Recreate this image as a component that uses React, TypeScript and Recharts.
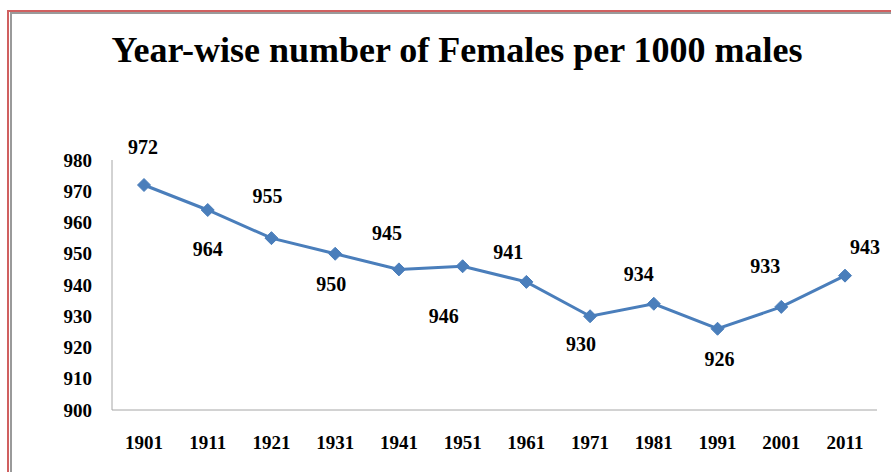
import React from "react";
import { LineChart, Line, XAxis, YAxis, LabelList } from "recharts";

const years = ["1901", "1911", "1921", "1931", "1941", "1951", "1961", "1971", "1981", "1991", "2001", "2011"];
const femalesPer1000 = [972, 964, 955, 950, 945, 946, 941, 930, 934, 926, 933, 943];
const yTicks = [900, 910, 920, 930, 940, 950, 960, 970, 980];
const titleText = "Year-wise number of Females per 1000 males";

const data = years.map((y, i) => ({ year: y, value: femalesPer1000[i] }));

// label placement offsets relative to each point (dx, dy)
const labelOffsets: [number, number][] = [
  [-1, -38], [0, 39], [-4, -42], [-4, 30], [-12, -36], [-19, 50],
  [-18, -30], [-9, 28], [-15, -30], [2, 30], [-16, -41], [20, -29],
];

const FONT = "'Liberation Serif', 'Times New Roman', serif";
const BLUE = "#4a7ebb";

const Diamond = (props: any) => {
  const { cx, cy } = props;
  if (cx == null || cy == null) return null;
  const r = 6.5;
  return (
    <polygon
      points={`${cx},${cy - r} ${cx + r},${cy} ${cx},${cy + r} ${cx - r},${cy}`}
      fill={BLUE}
      stroke={BLUE}
      strokeWidth={1}
    />
  );
};

const ValueLabel = (props: any) => {
  const { x, y, value, index } = props;
  const [dx, dy] = labelOffsets[index] || [0, -20];
  return (
    <text
      x={x + dx}
      y={y + dy}
      textAnchor="middle"
      dominantBaseline="central"
      fontFamily={FONT}
      fontWeight="bold"
      fontSize={20}
      fill="#000"
    >
      {value}
    </text>
  );
};

export default function App() {
  return (
    <div style={{ position: "absolute", left: 0, top: 0, width: 891, height: 472, background: "#fff", overflow: "hidden" }}>
      <div style={{ position: "absolute", left: 7, top: 10, width: 884, height: 2, background: "#d06060" }} />
      <div style={{ position: "absolute", left: 7, top: 10, width: 2, height: 462, background: "#d06060" }} />
      <div style={{ position: "absolute", left: 10, top: 12, width: 881, height: 2, background: "#9a9a9a" }} />
      <div style={{ position: "absolute", left: 10, top: 12, width: 2, height: 460, background: "#9a9a9a" }} />
      <div
        style={{
          position: "absolute",
          left: 0,
          width: 914,
          top: 28,
          textAlign: "center",
          fontFamily: FONT,
          fontWeight: "bold",
          fontSize: 36,
          lineHeight: "44px",
          color: "#000",
        }}
      >
        {titleText}
      </div>
      <div style={{ position: "absolute", left: 0, top: 0 }}>
        <LineChart width={891} height={472} data={data} margin={{ top: 160, right: 14, bottom: 22, left: 8 }}>
          <XAxis
            dataKey="year"
            padding={{ left: 32, right: 32 }}
            axisLine={{ stroke: "#a6a6a6", strokeWidth: 1 }}
            tickLine={false}
            tickSize={0}
            tickMargin={26}
            height={40}
            interval={0}
            tick={{ fontFamily: FONT, fontWeight: "bold", fontSize: 19, fill: "#000" }}
          />
          <YAxis
            domain={[900, 980]}
            ticks={yTicks}
            width={104}
            axisLine={{ stroke: "#a6a6a6", strokeWidth: 1 }}
            tickLine={false}
            tickSize={0}
            tickMargin={20}
            interval={0}
            tick={{ fontFamily: FONT, fontWeight: "bold", fontSize: 19, fill: "#000" }}
          />
          <Line
            type="linear"
            dataKey="value"
            stroke={BLUE}
            strokeWidth={3}
            dot={<Diamond />}
            activeDot={false}
            isAnimationActive={false}
          >
            <LabelList dataKey="value" content={<ValueLabel />} />
          </Line>
        </LineChart>
      </div>
    </div>
  );
}
